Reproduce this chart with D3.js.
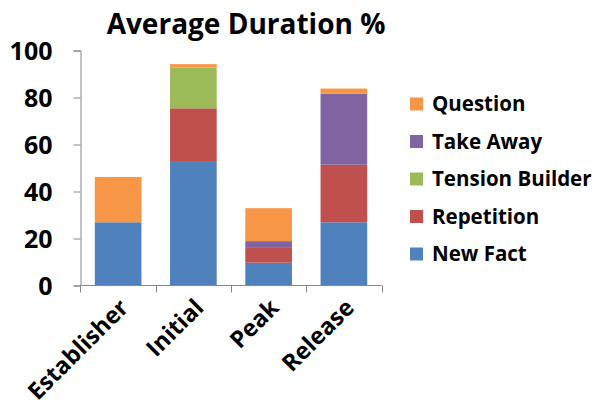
<!DOCTYPE html>
<html>
<head>
<meta charset="utf-8">
<script src="https://d3js.org/d3.v7.min.js"></script>
<style>
  body { margin: 0; background: #fff; }
  text { font-family: "Open Sans", sans-serif; font-weight: bold; fill: #000; }
</style>
</head>
<body>
<div id="chart"></div>
<script>
var categories = ["Establisher", "Initial", "Peak", "Release"];
var seriesNames = ["New Fact", "Repetition", "Tension Builder", "Take Away", "Question"];
var newFact = [26.9, 52.6, 9.7, 26.9];
var repetition = [0, 22.8, 6.3, 24.5];
var tensionBuilder = [0, 17.4, 0, 0];
var takeAway = [0, 0, 2.9, 30.2];
var question = [19.3, 1.4, 14.0, 2.2];
var yTicks = [0, 20, 40, 60, 80, 100];
var colors = ["#4f81bd", "#c0504d", "#9bbb59", "#8064a2", "#f79646"];

var width = 596, height = 407;
var svg = d3.select("#chart").append("svg").attr("width", width).attr("height", height);

var x = d3.scaleBand().domain(categories).range([80.5, 381.5]).paddingInner(0.38).paddingOuter(0.19);
var y = d3.scaleLinear().domain([0, 100]).range([285.5, 50.5]);

var rows = categories.map(function(c, i) {
  return { cat: c, "New Fact": newFact[i], "Repetition": repetition[i], "Tension Builder": tensionBuilder[i],
           "Take Away": takeAway[i], "Question": question[i] };
});
var stacked = d3.stack().keys(seriesNames)(rows);

svg.append("g").selectAll("g").data(stacked).enter().append("g")
  .attr("fill", function(d, i) { return colors[i]; })
  .selectAll("rect").data(function(d) { return d; }).enter().append("rect")
  .attr("x", function(d) { return x(d.data.cat); })
  .attr("width", x.bandwidth())
  .attr("y", function(d) { return y(d[1]); })
  .attr("height", function(d) { return y(d[0]) - y(d[1]); });

// y axis
var yAxis = svg.append("g").attr("transform", "translate(80.5,0)")
  .call(d3.axisLeft(y).tickValues(yTicks).tickSize(7).tickPadding(21));
yAxis.select(".domain").attr("stroke", "#868686");
yAxis.selectAll(".tick line").attr("stroke", "#868686");
yAxis.selectAll("text").style("font-size", "25px").attr("dy", "0.36em");

// x axis, ticks between categories
var xAxis = svg.append("g").attr("transform", "translate(0,285.5)");
xAxis.append("line").attr("x1", 80.5).attr("x2", 381.5).attr("stroke", "#868686");
var step = x.step();
var edges = categories.map(function(c) { return x(c) - (step - x.bandwidth()) / 2; });
edges.push(381.5);
xAxis.selectAll(".tk").data(edges).enter().append("line")
  .attr("x1", function(d) { return Math.round(d) + 0.5; }).attr("x2", function(d) { return Math.round(d) + 0.5; })
  .attr("y1", 0).attr("y2", 7).attr("stroke", "#868686");
xAxis.selectAll(".lb").data(categories).enter().append("text")
  .attr("transform", function(d) { return "translate(" + (x(d) + x.bandwidth() / 2) + ",12) rotate(-45)"; })
  .attr("text-anchor", "end")
  .attr("dy", "0.7em")
  .style("font-size", "23.5px")
  .text(function(d) { return d; });

// title
svg.append("text").attr("x", 246).attr("y", 34).attr("text-anchor", "middle")
  .style("font-size", "28px").text("Average Duration %");

// legend, reversed order
var legendOrder = seriesNames.slice().reverse();
var leg = svg.append("g").selectAll("g").data(legendOrder).enter().append("g")
  .attr("transform", function(d, i) { return "translate(410," + (104 + i * 37.5) + ")"; });
leg.append("rect").attr("x", 0).attr("y", -6.5).attr("width", 13).attr("height", 13)
  .attr("fill", function(d) { return colors[seriesNames.indexOf(d)]; });
leg.append("text").attr("x", 22).attr("dy", "0.36em").style("font-size", "20.5px").text(function(d) { return d; });
</script>
</body>
</html>
